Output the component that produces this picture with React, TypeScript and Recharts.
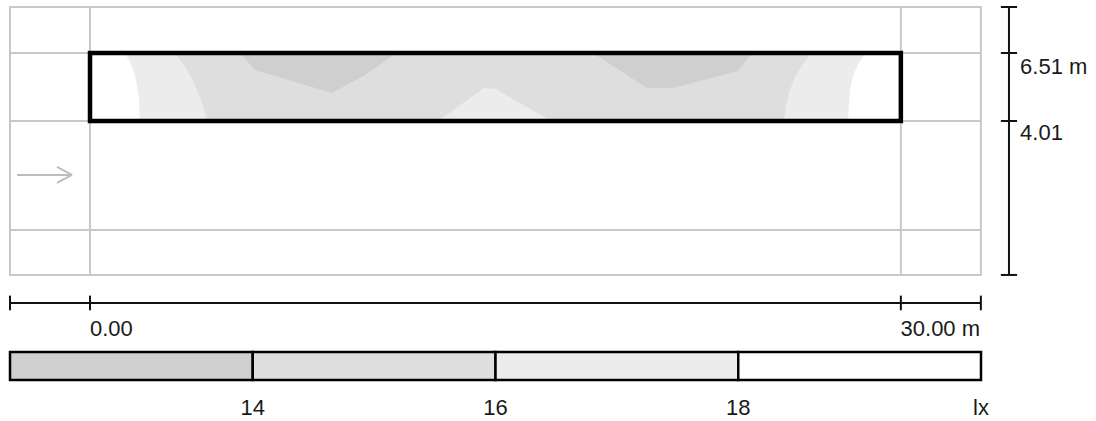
import React from "react";
import {
  Area,
  ComposedChart,
  ReferenceArea,
  ReferenceLine,
  Scatter,
  XAxis,
  YAxis,
} from "recharts";

// metres, plan view of the calculation field
const fieldX = [0, 30];
const fieldY = [4.01, 6.51];
const outerX = [-2.96, 32.96];
const outerY = [-1.65, 8.2];
const gridX = [0, 30];
const gridY = [0, 4.01, 6.51];

// isolux bands: [x, yLow, yHigh]
const bandMid: number[][] = [
  [0, 4.01, 6.51],
  [30, 4.01, 6.51],
];
const lightLeft: number[][] = [
  [0, 4.01, 6.51], [3.145, 4.01, 6.51], [3.441, 4.01, 6.106], [3.7, 4.01, 5.701],
  [3.922, 4.01, 5.223], [4.107, 4.01, 4.782], [4.255, 4.01, 4.341], [4.329, 4.01, 4.01],
];
const whiteLeft: number[][] = [
  [0, 4.01, 6.51], [1.295, 4.01, 6.51], [1.48, 4.01, 6.179], [1.628, 4.01, 5.811],
  [1.739, 4.01, 5.334], [1.813, 4.01, 4.782], [1.85, 4.01, 4.01],
];
const lightMid: number[][] = [
  [12.875, 4.01, 4.01], [14.576, 4.01, 5.223], [15.02, 4.01, 5.186],
  [15.76, 4.01, 4.745], [17.092, 4.01, 4.01],
];
const lightRight: number[][] = [
  [25.675, 4.01, 4.01], [25.749, 4.01, 4.598], [25.897, 4.01, 5.15], [26.119, 4.01, 5.701],
  [26.378, 4.01, 6.106], [26.711, 4.01, 6.51], [30, 4.01, 6.51],
];
const whiteRight: number[][] = [
  [28.043, 4.01, 4.01], [28.08, 4.01, 4.598], [28.117, 4.01, 5.15], [28.228, 4.01, 5.664],
  [28.413, 4.01, 6.106], [28.709, 4.01, 6.51], [30, 4.01, 6.51],
];
const darkA: number[][] = [
  [5.549, 6.51, 6.51], [6.104, 5.885, 6.51], [8.953, 5.039, 6.51],
  [10.174, 5.701, 6.51], [11.358, 6.51, 6.51],
];
const darkB: number[][] = [
  [18.609, 6.51, 6.51], [20.607, 5.223, 6.51], [21.569, 5.223, 6.51],
  [23.973, 5.848, 6.51], [24.491, 6.51, 6.51],
];

// dimension lines
const dimRightX = 34.0;
const dimRightTicks = [8.2, 6.51, 4.01, -1.65];
const dimBottomY = -2.68;
const dimBottomTicks = [-2.96, 0, 30, 32.96];
const dimLabels = [
  { x: 34.41, y: 5.738, label: "6.51 m", anchor: "start" },
  { x: 34.41, y: 3.311, label: "4.01", anchor: "start" },
  { x: 0, y: -3.894, label: "0.00", anchor: "start" },
  { x: 32.93, y: -3.894, label: "30.00 m", anchor: "end" },
];

// viewing direction arrow
const arrowShaft = [[-2.701, 2.025], [-0.666, 2.025]];
const arrowHead = [[-1.221, 2.319], [-0.666, 2.025], [-1.221, 1.731]];

// legend (lx)
const bandEdges = [12, 14, 16, 18, 20];
const bandColors = ["#cfcfcf", "#dedede", "#ececec", "#ffffff"];
const legendTicks = [14, 16, 18, 20];
const legendTickLabels = ["14", "16", "18", "lx"];

const FONT = "'Liberation Sans', Arial, sans-serif";
const GREY = "#c8c8c8";
const FS = 22;

const toRange = (rows: number[][]) => rows.map(([x, lo, hi]) => ({ x, r: [lo, hi] }));

const bands: { rows: number[][]; fill: string }[] = [
  { rows: bandMid, fill: "#dedede" },
  { rows: lightLeft, fill: "#ececec" },
  { rows: lightMid, fill: "#ececec" },
  { rows: lightRight, fill: "#ececec" },
  { rows: whiteLeft, fill: "#ffffff" },
  { rows: whiteRight, fill: "#ffffff" },
  { rows: darkA, fill: "#cfcfcf" },
  { rows: darkB, fill: "#cfcfcf" },
];

function LabelText(p: any) {
  return (
    <text x={p.cx} y={p.cy} textAnchor={p.payload.anchor} fontSize={FS} fontFamily={FONT} fill="#1a1a1a">
      {p.payload.label}
    </text>
  );
}

function LegendTick(p: any) {
  const i = legendTicks.indexOf(p.payload.value);
  return (
    <text x={p.x} y={p.y + 35} textAnchor="middle" fontSize={FS} fontFamily={FONT} fill="#1a1a1a">
      {legendTickLabels[i]}
    </text>
  );
}

export default function App() {
  return (
    <div style={{ position: "absolute", left: 0, top: 0, width: 1096, height: 421, background: "#fff" }}>
      <ComposedChart width={1096} height={345} margin={{ top: 0, right: 0, bottom: 0, left: 0 }}>
        <XAxis type="number" dataKey="x" domain={[-3.33, 37.22]} allowDataOverflow hide />
        <YAxis type="number" dataKey="y" domain={[-4.225, 8.458]} allowDataOverflow hide />

        {bands.map((b, i) => (
          <Area
            key={i}
            data={toRange(b.rows)}
            dataKey="r"
            type="linear"
            stroke="none"
            fill={b.fill}
            fillOpacity={1}
            dot={false}
            activeDot={false}
            isAnimationActive={false}
          />
        ))}

        <ReferenceArea
          x1={outerX[0]} x2={outerX[1]} y1={outerY[0]} y2={outerY[1]}
          fill="none" stroke={GREY} strokeWidth={2} ifOverflow="visible"
        />
        {gridX.map((x) => (
          <ReferenceLine key={"gx" + x} segment={[{ x, y: outerY[0] }, { x, y: outerY[1] }]} stroke={GREY} strokeWidth={2} />
        ))}
        {gridY.map((y) => (
          <ReferenceLine key={"gy" + y} segment={[{ x: outerX[0], y }, { x: outerX[1], y }]} stroke={GREY} strokeWidth={2} />
        ))}

        <ReferenceLine segment={[{ x: arrowShaft[0][0], y: arrowShaft[0][1] }, { x: arrowShaft[1][0], y: arrowShaft[1][1] }]} stroke="#bdbdbd" strokeWidth={2} />
        <ReferenceLine segment={[{ x: arrowHead[0][0], y: arrowHead[0][1] }, { x: arrowHead[1][0], y: arrowHead[1][1] }]} stroke="#bdbdbd" strokeWidth={2} />
        <ReferenceLine segment={[{ x: arrowHead[1][0], y: arrowHead[1][1] }, { x: arrowHead[2][0], y: arrowHead[2][1] }]} stroke="#bdbdbd" strokeWidth={2} />

        <ReferenceArea
          x1={fieldX[0]} x2={fieldX[1]} y1={fieldY[0]} y2={fieldY[1]}
          fill="none" stroke="#000" strokeWidth={4.5} zIndex={1000}
        />

        <ReferenceLine segment={[{ x: dimRightX, y: dimRightTicks[0] }, { x: dimRightX, y: dimRightTicks[3] }]} stroke="#111" strokeWidth={2} />
        {dimRightTicks.map((y) => (
          <ReferenceLine key={"rt" + y} segment={[{ x: dimRightX - 0.3, y }, { x: dimRightX + 0.3, y }]} stroke="#111" strokeWidth={2} />
        ))}
        <ReferenceLine segment={[{ x: dimBottomTicks[0], y: dimBottomY }, { x: dimBottomTicks[3], y: dimBottomY }]} stroke="#111" strokeWidth={2} />
        {dimBottomTicks.map((x) => (
          <ReferenceLine key={"bt" + x} segment={[{ x, y: dimBottomY + 0.27 }, { x, y: dimBottomY - 0.27 }]} stroke="#111" strokeWidth={2} />
        ))}

        <Scatter data={dimLabels} dataKey="y" shape={LabelText} isAnimationActive={false} />
      </ComposedChart>

      <div style={{ position: "absolute", left: 0, top: 345 }}>
        <ComposedChart
          width={1096}
          height={76}
          data={bandEdges.map((v) => ({ v, h: 1 }))}
          margin={{ top: 7, right: 115, bottom: 0, left: 10 }}
        >
          <XAxis
            type="number"
            dataKey="v"
            domain={[bandEdges[0], bandEdges[bandEdges.length - 1]]}
            ticks={legendTicks}
            interval={0}
            axisLine={false}
            tickLine={false}
            tickSize={0}
            tickMargin={0}
            height={41}
            tick={LegendTick}
          />
          <YAxis type="number" dataKey="h" domain={[0, 1]} hide />
          {bandColors.map((c, i) => (
            <ReferenceArea
              key={i}
              x1={bandEdges[i]} x2={bandEdges[i + 1]} y1={0} y2={1}
              fill={c} fillOpacity={1} stroke="#000" strokeWidth={2.5} ifOverflow="visible"
            />
          ))}
        </ComposedChart>
      </div>
    </div>
  );
}
